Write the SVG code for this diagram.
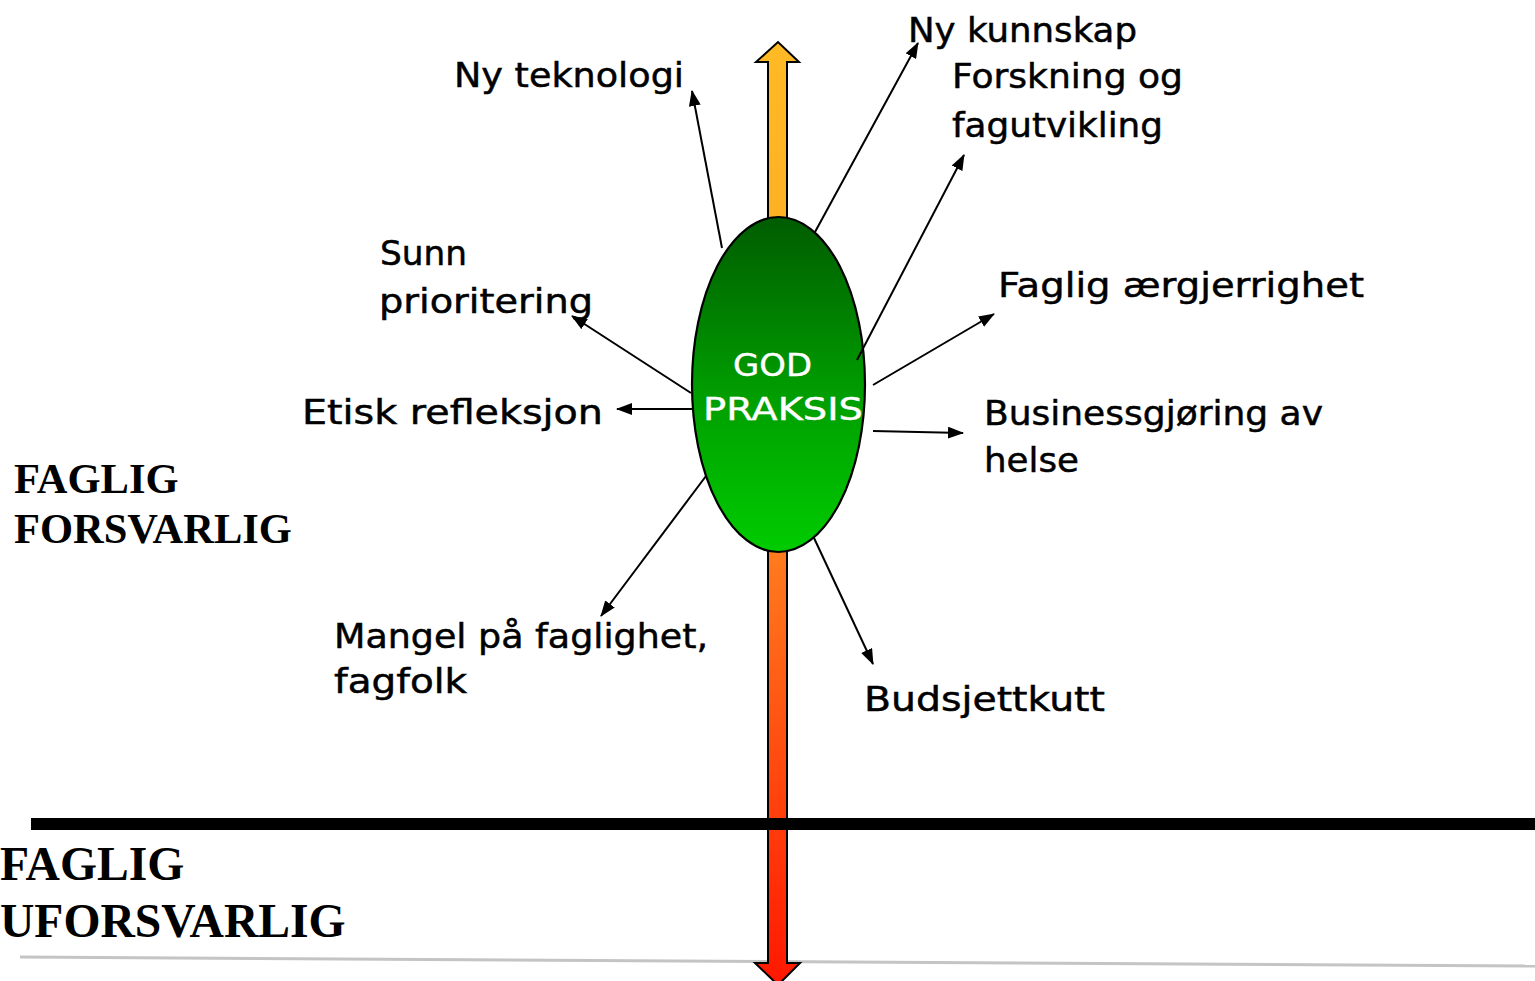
<svg xmlns="http://www.w3.org/2000/svg" width="1535" height="981" viewBox="0 0 1535 981">
<defs>
<linearGradient id="gArrow" gradientUnits="userSpaceOnUse" x1="0" y1="42" x2="0" y2="981">
<stop offset="0" stop-color="#FFBA24"/>
<stop offset="0.2" stop-color="#FFB024"/>
<stop offset="0.55" stop-color="#FF7A1E"/>
<stop offset="1" stop-color="#FF1800"/>
</linearGradient>
<linearGradient id="gEll" x1="0" y1="0" x2="0" y2="1">
<stop offset="0" stop-color="#005C00"/>
<stop offset="0.5" stop-color="#009A00"/>
<stop offset="1" stop-color="#00CC00"/>
</linearGradient>
<marker id="ah" markerWidth="16" markerHeight="12" refX="15" refY="6" orient="auto" markerUnits="userSpaceOnUse">
<path d="M0,0 L16,6 L0,12 Z" fill="#000"/>
</marker>
</defs>
<style>
.lbl{font-family:"DejaVu Sans",sans-serif;font-size:34px;fill:#000;stroke:#000;stroke-width:0.5}
.big{font-family:"Liberation Serif","Times New Roman",serif;font-weight:bold;fill:#000}
.conn line{stroke:#000;stroke-width:2;marker-end:url(#ah)}
.inner{font-family:"DejaVu Sans",sans-serif;font-size:32px;fill:#fff;stroke:#fff;stroke-width:0.4}
</style>
<rect width="1535" height="981" fill="#fff"/>
<line x1="20" y1="957" x2="1535" y2="966" stroke="#C4C4C4" stroke-width="3"/>
<g id="axis">
<path d="M768,62 L756,62 L778,42 L799,62 L787,62 L787,963 L800,963 L778,985 L755,963 L768,963 Z" fill="url(#gArrow)" stroke="#000" stroke-width="2" stroke-linejoin="miter"/>
</g>
<line x1="31" y1="824" x2="1535" y2="824" stroke="#000" stroke-width="12"/>
<g id="god-praksis">
<ellipse cx="778.5" cy="384.5" rx="86.5" ry="167.5" fill="url(#gEll)" stroke="#000" stroke-width="2.2"/>
<text class="inner" x="733" y="376" textLength="79" lengthAdjust="spacingAndGlyphs">GOD</text>
<text class="inner" x="703" y="420" textLength="160" lengthAdjust="spacingAndGlyphs">PRAKSIS</text>
</g>
<g class="conn" id="connectors">
<line x1="722" y1="248" x2="692" y2="91"/>
<line x1="815" y1="232" x2="918" y2="43"/>
<line x1="857" y1="360" x2="964" y2="155"/>
<line x1="873" y1="385" x2="994" y2="314"/>
<line x1="873" y1="431" x2="963" y2="433"/>
<line x1="692" y1="409" x2="617" y2="409"/>
<line x1="691" y1="393" x2="572" y2="316"/>
<line x1="706" y1="476" x2="601" y2="616"/>
<line x1="814" y1="538" x2="873" y2="664"/>
</g>
<g id="ny-teknologi"><text class="lbl" x="454" y="87" textLength="230" lengthAdjust="spacingAndGlyphs">Ny teknologi</text></g>
<g id="ny-kunnskap"><text class="lbl" x="908" y="42" textLength="229" lengthAdjust="spacingAndGlyphs">Ny kunnskap</text></g>
<g id="forskning">
<text class="lbl" x="952" y="88" textLength="231" lengthAdjust="spacingAndGlyphs">Forskning og</text>
<text class="lbl" x="952" y="137" textLength="211" lengthAdjust="spacingAndGlyphs">fagutvikling</text>
</g>
<g id="sunn-prioritering">
<text class="lbl" x="380" y="265" textLength="87" lengthAdjust="spacingAndGlyphs">Sunn</text>
<text class="lbl" x="379" y="313" textLength="214" lengthAdjust="spacingAndGlyphs">prioritering</text>
</g>
<g id="etisk"><text class="lbl" x="302" y="424" textLength="301" lengthAdjust="spacingAndGlyphs">Etisk refleksjon</text></g>
<g id="faglig-aergjerrighet"><text class="lbl" x="998" y="297" textLength="366" lengthAdjust="spacingAndGlyphs">Faglig ærgjerrighet</text></g>
<g id="businessgjoring">
<text class="lbl" x="984" y="425" textLength="339" lengthAdjust="spacingAndGlyphs">Businessgjøring av</text>
<text class="lbl" x="984" y="472" textLength="95" lengthAdjust="spacingAndGlyphs">helse</text>
</g>
<g id="mangel">
<text class="lbl" x="334" y="648" textLength="374" lengthAdjust="spacingAndGlyphs">Mangel på faglighet,</text>
<text class="lbl" x="334" y="693" textLength="133" lengthAdjust="spacingAndGlyphs">fagfolk</text>
</g>
<g id="budsjettkutt"><text class="lbl" x="864" y="711" textLength="241" lengthAdjust="spacingAndGlyphs">Budsjettkutt</text></g>
<g id="faglig-forsvarlig">
<text class="big" x="14" y="493" font-size="42.5">FAGLIG</text>
<text class="big" x="14" y="543" font-size="42.5">FORSVARLIG</text>
</g>
<g id="faglig-uforsvarlig">
<text class="big" x="0" y="880" font-size="47.6">FAGLIG</text>
<text class="big" x="0" y="937" font-size="47.6">UFORSVARLIG</text>
</g>
</svg>
